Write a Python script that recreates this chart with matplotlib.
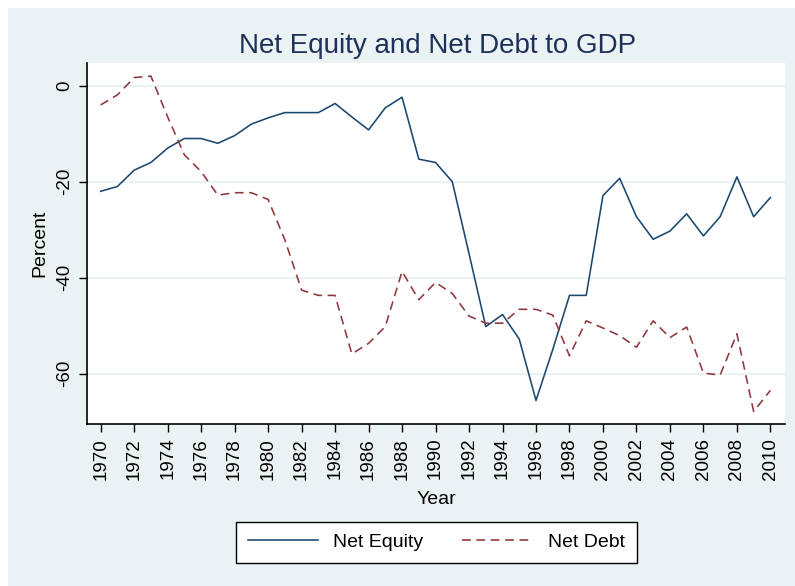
import matplotlib
matplotlib.use("Agg")
import matplotlib.pyplot as plt
from matplotlib.patches import Rectangle

plt.rcParams['font.family'] = ['Liberation Sans', 'DejaVu Sans']

years = list(range(1970, 2011))
net_equity = [-22.0, -21.0, -17.6, -16.0, -13.0, -11.0, -11.0, -12.0, -10.4, -8.0,
              -6.7, -5.6, -5.6, -5.6, -3.7, -6.5, -9.2, -4.6, -2.4, -15.3,
              -16.0, -20.0, -35.0, -50.2, -47.7, -52.8, -65.6, -55.0, -43.7, -43.7,
              -22.9, -19.3, -27.3, -32.0, -30.3, -26.7, -31.3, -27.3, -19.0, -27.3,
              -23.3]
net_debt = [-4.0, -1.9, 1.7, 2.0, -6.5, -14.4, -17.9, -22.8, -22.3, -22.3,
            -23.7, -32.1, -42.6, -43.7, -43.7, -55.9, -53.7, -50.2, -38.7, -44.6,
            -41.0, -43.3, -48.0, -49.5, -49.5, -46.6, -46.6, -47.8, -56.3, -49.0,
            -50.5, -52.1, -54.5, -49.0, -52.5, -50.3, -59.9, -60.3, -51.7, -67.9,
            -63.5]
y_ticks = [0, -20, -40, -60]
x_ticks = list(range(1970, 2011, 2))

BG = '#EAF2F3'
fig = plt.figure(figsize=(7.95, 5.86), dpi=100)
fig.patch.set_facecolor('white')
fig.patches.append(Rectangle((8 / 795, 0), 1, 1 - 8 / 586, transform=fig.transFigure,
                             facecolor=BG, edgecolor='none', zorder=-10))

ax = fig.add_axes([0.110, 0.2765, 0.878, 0.6165])
ax.set_facecolor('white')
ax.plot(years, net_equity, color='#1A476F', lw=1.15, label='Net Equity')
ax.plot(years, net_debt, color='#90353B', lw=1.15, dashes=(5.5, 3.5), label='Net Debt')

ax.set_xlim(1969.21, 2010.9)
ax.set_ylim(-70.5, 4.8)
ax.set_yticks(y_ticks)
ax.set_yticklabels([str(v) for v in y_ticks], rotation=90, va='center')
ax.set_xticks(x_ticks)
ax.set_xticklabels([str(v) for v in x_ticks], rotation=90)
ax.tick_params(labelsize=13.5, length=6, width=1, color='black', pad=4)
ax.grid(axis='y', color=BG, lw=1.5)
ax.set_axisbelow(True)
for s in ['top', 'right']:
    ax.spines[s].set_visible(False)
for s in ['left', 'bottom']:
    ax.spines[s].set_linewidth(1.2)

ax.set_xlabel('Year', fontsize=14, labelpad=8)
ax.set_ylabel('Percent', fontsize=14, labelpad=6)
fig.suptitle('Net Equity and Net Debt to GDP', fontsize=20, color='#1E3159',
             x=0.55, y=0.9215, va='center')

leg = fig.legend(loc='center', bbox_to_anchor=(0.549, 0.075), ncol=2, fontsize=14,
                 frameon=True, fancybox=False, edgecolor='black', framealpha=1,
                 handlelength=3.6, columnspacing=2.0, borderpad=0.6)
leg.get_frame().set_linewidth(1.0)

fig.savefig('out.png', dpi=100, facecolor=fig.get_facecolor())
